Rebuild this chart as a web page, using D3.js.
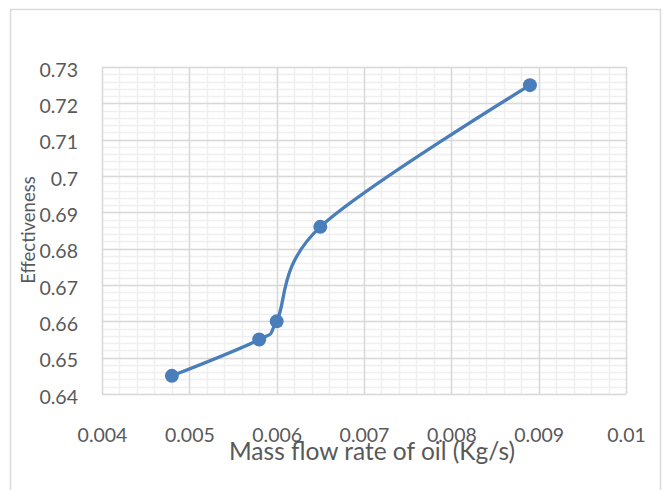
<!DOCTYPE html>
<html>
<head>
<meta charset="utf-8">
<script src="https://cdn.jsdelivr.net/npm/d3@7"></script>
<style>
  html, body { margin: 0; padding: 0; background: #fff; }
  svg { display: block; }
  text { font-family: Lato, "Open Sans", sans-serif; fill: #595959; }
</style>
</head>
<body>
<svg id="chart" width="665" height="490"></svg>
<script>
// Effectiveness versus oil mass flow rate
const massFlow = [0.0048, 0.0058, 0.006, 0.0065, 0.0089];
const effectiveness = [0.645, 0.655, 0.66, 0.686, 0.725];

const xTicks = [0.004, 0.005, 0.006, 0.007, 0.008, 0.009, 0.01];
const xTickLabels = ["0.004", "0.005", "0.006", "0.007", "0.008", "0.009", "0.01"];
const yTicks = [0.64, 0.65, 0.66, 0.67, 0.68, 0.69, 0.7, 0.71, 0.72, 0.73];
const yTickLabels = ["0.64", "0.65", "0.66", "0.67", "0.68", "0.69", "0.7", "0.71", "0.72", "0.73"];

const xTitle = "Mass flow rate of oil (Kg/s)";
const yTitle = "Effectiveness";

const svg = d3.select("#chart");
const plot = { left: 102, right: 626, top: 67, bottom: 394 };

// chart frame
svg.append("rect")
  .attr("x", 10.5).attr("y", 9.5)
  .attr("width", 650).attr("height", 500)
  .attr("fill", "#fff")
  .attr("stroke", "#d9d9d9").attr("stroke-width", 1.5);

const x = d3.scaleLinear().domain([0.004, 0.01]).range([plot.left, plot.right]);
const y = d3.scaleLinear().domain([0.64, 0.73]).range([plot.bottom, plot.top]);

// minor gridlines
const xMinor = d3.range(0, 31).map(i => 0.004 + i * 0.0002);
const yMinor = d3.range(0, 46).map(i => 0.64 + i * 0.002);
const grid = svg.append("g");
grid.selectAll("line.xm").data(xMinor).join("line")
  .attr("x1", d => Math.round(x(d)) + 0.5).attr("x2", d => Math.round(x(d)) + 0.5)
  .attr("y1", plot.top).attr("y2", plot.bottom)
  .attr("stroke", "#efefef").attr("stroke-width", 1.5);
grid.selectAll("line.ym").data(yMinor).join("line")
  .attr("y1", d => Math.round(y(d)) + 0.5).attr("y2", d => Math.round(y(d)) + 0.5)
  .attr("x1", plot.left).attr("x2", plot.right)
  .attr("stroke", "#efefef").attr("stroke-width", 1.5);

// major gridlines
grid.selectAll("line.xM").data(xTicks).join("line")
  .attr("x1", d => Math.round(x(d)) + 0.5).attr("x2", d => Math.round(x(d)) + 0.5)
  .attr("y1", plot.top).attr("y2", plot.bottom)
  .attr("stroke", "#d9d9d9").attr("stroke-width", 1.5);
grid.selectAll("line.yM").data(yTicks).join("line")
  .attr("y1", d => Math.round(y(d)) + 0.5).attr("y2", d => Math.round(y(d)) + 0.5)
  .attr("x1", plot.left).attr("x2", plot.right)
  .attr("stroke", "#d9d9d9").attr("stroke-width", 1.5);

// axes (labels only)
const xAxis = d3.axisBottom(x).tickValues(xTicks)
  .tickFormat((d, i) => xTickLabels[i]).tickSize(0).tickPadding(0);
const gx = svg.append("g").attr("transform", `translate(0,${plot.bottom})`).call(xAxis);
gx.select(".domain").remove();
gx.selectAll("text")
  .attr("y", 48).attr("dy", null)
  .style("font-size", "19.5px").style("font-family", "Lato")
  .attr("fill", "#595959");

const yAxis = d3.axisLeft(y).tickValues(yTicks)
  .tickFormat((d, i) => yTickLabels[i]).tickSize(0).tickPadding(0);
const gy = svg.append("g").attr("transform", "translate(78,0)").call(yAxis);
gy.select(".domain").remove();
gy.selectAll("text")
  .attr("x", 0).attr("dy", 9)
  .style("font-size", "19.5px").style("font-family", "Lato")
  .attr("fill", "#595959");

// series
const pts = massFlow.map((m, i) => [x(m), y(effectiveness[i])]);
const line = d3.line().curve(d3.curveCardinal.tension(0));
svg.append("path")
  .attr("d", line(pts))
  .attr("fill", "none")
  .attr("stroke", "#4a7ebb").attr("stroke-width", 3.3)
  .attr("stroke-linecap", "round").attr("stroke-linejoin", "round");
svg.selectAll("circle.pt").data(pts).join("circle")
  .attr("cx", d => d[0]).attr("cy", d => d[1]).attr("r", 7)
  .attr("fill", "#4a7ebb");

// axis titles
svg.append("text")
  .attr("x", 372).attr("y", 460)
  .attr("text-anchor", "middle")
  .style("font-size", "24.5px")
  .text(xTitle);
svg.append("text")
  .attr("transform", "translate(35,230) rotate(-90)")
  .attr("text-anchor", "middle")
  .style("font-size", "18.5px")
  .text(yTitle);
</script>
</body>
</html>
